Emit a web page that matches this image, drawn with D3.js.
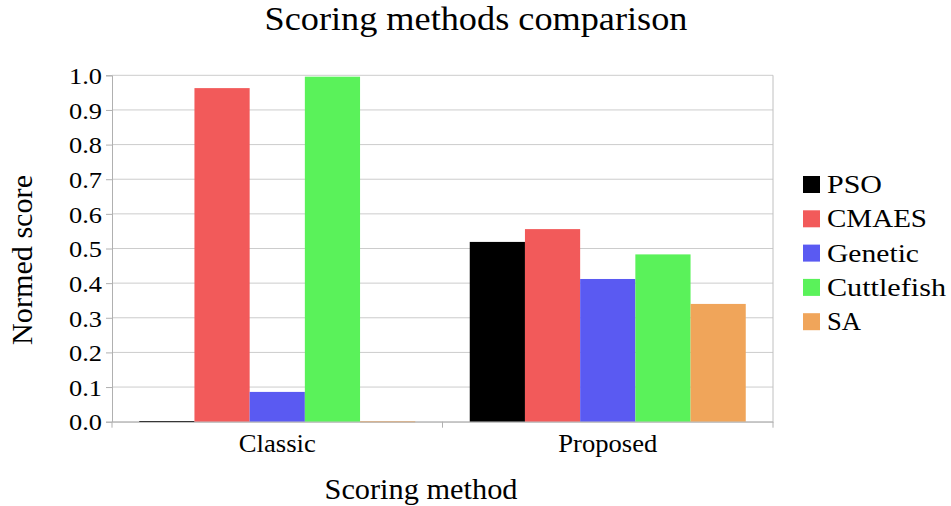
<!DOCTYPE html>
<html><head><meta charset="utf-8">
<script src="https://cdn.jsdelivr.net/npm/d3@7"></script>
<style>body{margin:0;background:#fff}svg{display:block}</style>
</head><body><svg id="c" width="951" height="506"></svg>
<script>
const categories = ["Classic", "Proposed"];
const seriesNames = ["PSO", "CMAES", "Genetic", "Cuttlefish", "SA"];
const PSO = [0.002, 0.519];
const CMAES = [0.963, 0.556];
const Genetic = [0.086, 0.412];
const Cuttlefish = [0.996, 0.483];
const SA = [0.001, 0.340];
const yTicks = [0.0, 0.1, 0.2, 0.3, 0.4, 0.5, 0.6, 0.7, 0.8, 0.9, 1.0];
const colors = ["#000000", "#f25a5a", "#5a5af2", "#5af25a", "#f0a55a"];
const values = [PSO, CMAES, Genetic, Cuttlefish, SA];

const FONT = "'Liberation Serif', 'DejaVu Serif', serif";
const svg = d3.select("#c");
const L = 112, R = 773, T = 75.3, B = 421.7;
const x = d3.scaleBand().domain(categories).range([L, R]);
const xs = d3.scaleBand().domain(seriesNames).range([0, 276]);
const y = d3.scaleLinear().domain([0, 1]).range([B, T]);

function styleText(sel, size, lenFn) {
  sel.style("font-family", FONT).attr("font-size", size).attr("fill", "#000")
    .attr("lengthAdjust", "spacingAndGlyphs")
    .attr("textLength", lenFn);
}

// grid
svg.append("g").selectAll("line").data(yTicks).join("line")
  .attr("x1", L).attr("x2", R).attr("y1", d => y(d)).attr("y2", d => y(d))
  .attr("stroke", "#cccccc").attr("stroke-width", 1);
svg.append("line").attr("x1", R).attr("x2", R).attr("y1", T).attr("y2", B).attr("stroke", "#c0c0c0");

// bars
seriesNames.forEach((s, i) => {
  svg.append("g").selectAll("rect").data(categories).join("rect")
    .attr("x", c => x(c) + (x.bandwidth() - 276) / 2 + xs(s))
    .attr("width", xs.bandwidth())
    .attr("y", (c, j) => y(values[i][j]))
    .attr("height", (c, j) => Math.max(1, B - y(values[i][j])))
    .attr("fill", colors[i]);
});

// y axis
const ya = svg.append("g").attr("transform", `translate(${L},0)`)
  .call(d3.axisLeft(y).tickValues(yTicks).tickFormat(d3.format(".1f")).tickSize(6).tickPadding(4));
ya.select(".domain").attr("stroke", "#b0b0b0");
ya.selectAll(".tick line").attr("stroke", "#b0b0b0");
styleText(ya.selectAll("text"), 23, 33);
ya.selectAll("text").attr("dy", "0.36em");

// x axis
const xa = svg.append("g").attr("transform", `translate(0,${B})`)
  .call(d3.axisBottom(x).tickSize(0).tickPadding(0));
xa.select(".domain").attr("stroke", "#b0b0b0");
const catW = {"Classic": 77, "Proposed": 99};
styleText(xa.selectAll("text"), 25, d => catW[d]);
xa.selectAll("text").attr("y", 30).attr("dy", 0);
svg.append("g").selectAll("line").data([L, (L + R) / 2, R]).join("line")
  .attr("x1", d => d).attr("x2", d => d).attr("y1", B).attr("y2", B + 6).attr("stroke", "#b0b0b0");

// titles
styleText(svg.append("text").attr("x", 476).attr("y", 30).attr("text-anchor", "middle").text("Scoring methods comparison"), 34, 423);
styleText(svg.append("text").attr("x", 421).attr("y", 499).attr("text-anchor", "middle").text("Scoring method"), 29, 193);
styleText(svg.append("text").attr("transform", "translate(32,260) rotate(-90)").attr("text-anchor", "middle").text("Normed score"), 29, 170);

// legend
const legW = {"PSO": 55, "CMAES": 100, "Genetic": 92, "Cuttlefish": 119, "SA": 34};
const lg = svg.append("g").selectAll("g").data(seriesNames).join("g")
  .attr("transform", (d, i) => `translate(803,${193 + i * 34.3})`);
lg.append("rect").attr("x", 0).attr("y", -17).attr("width", 17).attr("height", 17).attr("fill", (d, i) => colors[i]);
styleText(lg.append("text").attr("x", 24).attr("y", 0).text(d => d), 26, d => legW[d]);
</script></body></html>
